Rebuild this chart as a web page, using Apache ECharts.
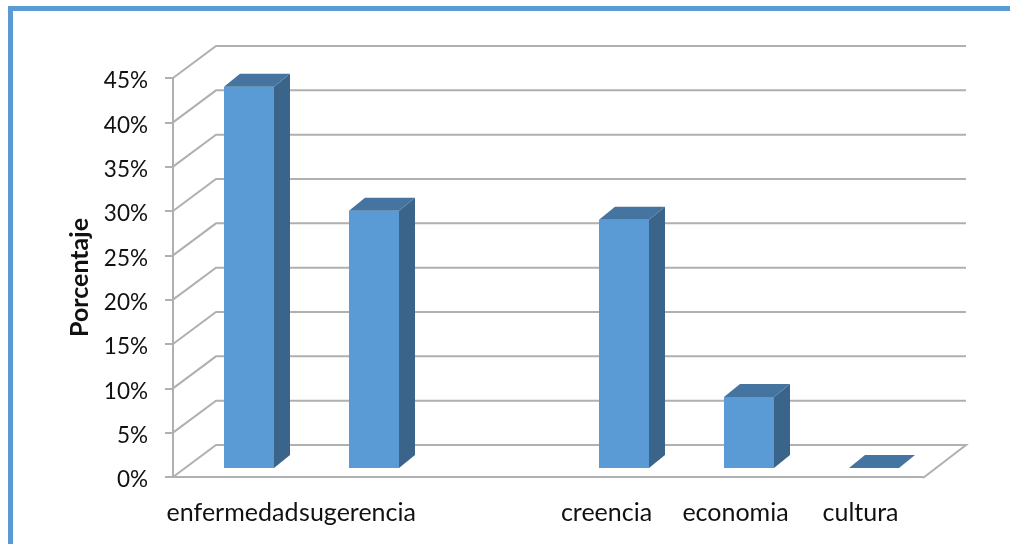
<!DOCTYPE html>
<html><head><meta charset="utf-8">
<style>html,body{margin:0;padding:0;background:#fff}#c{width:1010px;height:544px;filter:blur(0.35px)}</style>
<script src="https://cdn.jsdelivr.net/npm/echarts@6/dist/echarts.min.js"></script>
</head><body><div id="c"></div>
<script>
const categories = ['enfermedad','sugerencia','','creencia','economia','cultura'];
const values = [43,29,null,28,8,0];
const gridTicks = [0,5,10,15,20,25,30,35,40,45];
const axisName = 'Porcentaje';

const DX=43, DY=-32, BW=50, BDX=16, BDY=-13, OX=13.5, OY=-9;
const LINE='#b0b0b0', FRONT='#5b9bd5', TOP='#4674a0', SIDE='#3a6489', FRAME='#5b9bd5';

const chart = echarts.init(document.getElementById('c'), null, {renderer:'canvas'});
const wallRender = (p, api) => {
  const band = api.size([1,0])[0];
  const c = api.coord([0, api.value(1)]);
  const x0 = c[0]-band/2, y = c[1];
  const w = band*categories.length;
  const pts = [[x0,y],[x0+DX,y+DY],[x0+DX+w,y+DY]];
  if (api.value(1)===0) pts.push([x0+w,y+1]);
  return {type:'polyline',shape:{points:pts},style:{stroke:LINE,lineWidth:2,fill:null}};
};
const barRender = (p, api) => {
  if (api.value(1)==null || isNaN(api.value(1))) return null;
  const t = api.coord([api.value(0), api.value(1)]);
  const b = api.coord([api.value(0), 0]);
  const l = t[0]+OX-BW/2, r = l+BW, yt = t[1]+OY, yb = b[1]+OY;
  const kids = [];
  if (yb-yt>0.5) {
    kids.push({type:'polygon',shape:{points:[[l,yt],[r,yt],[r,yb],[l,yb]]},style:{fill:FRONT}});
    kids.push({type:'polygon',shape:{points:[[r,yt],[r+BDX,yt+BDY],[r+BDX,yb+BDY],[r,yb]]},style:{fill:SIDE}});
  }
  kids.push({type:'polygon',shape:{points:[[l,yt],[l+BDX,yt+BDY],[r+BDX,yt+BDY],[r,yt]]},style:{fill:TOP}});
  return {type:'group',children:kids};
};
chart.setOption({
  animation:false,
  backgroundColor:'#fff',
  textStyle:{fontFamily:'Lato'},
  graphic:[
    {type:'rect',shape:{x:8,y:6,width:1002,height:5},style:{fill:FRAME}},
    {type:'rect',shape:{x:8,y:6,width:5,height:538},style:{fill:FRAME}}
  ],
  grid:{left:173,right:87,top:78,bottom:67,containLabel:false},
  xAxis:{type:'category',data:categories,boundaryGap:true,
    axisLine:{show:true,lineStyle:{color:LINE,width:2}},axisTick:{show:false},
    axisLabel:{interval:0,color:'#111',fontSize:25,margin:23,hideOverlap:false,
      formatter:(v,i)=> (i===0||i===1)?'{a|'+v+'}':(i===3?'{b|'+v+'}':v),
      rich:{a:{fontSize:25,color:'#111',padding:[0,6,0,0]},b:{fontSize:25,color:'#111',padding:[0,8,0,0]}}}},
  yAxis:{type:'value',min:0,max:45,interval:5,
    name:axisName,nameLocation:'middle',nameGap:81,nameRotate:90,
    nameTextStyle:{fontSize:25,fontWeight:'bold',color:'#111'},
    axisLine:{show:true,lineStyle:{color:LINE,width:2}},
    axisTick:{show:true,length:8,lineStyle:{color:LINE,width:2}},
    axisLabel:{formatter:'{value}%',color:'#111',fontSize:22.5,margin:25,verticalAlign:'top',lineHeight:6},
    splitLine:{show:false}},
  series:[
    {type:'custom',z:1,renderItem:wallRender,silent:true,encode:{x:0,y:1},
      data:gridTicks.map(v=>[0,v])},
    {type:'custom',z:3,renderItem:barRender,encode:{x:0,y:1},
      data:values.map((v,i)=>[i,v])}
  ]
});
</script></body></html>
